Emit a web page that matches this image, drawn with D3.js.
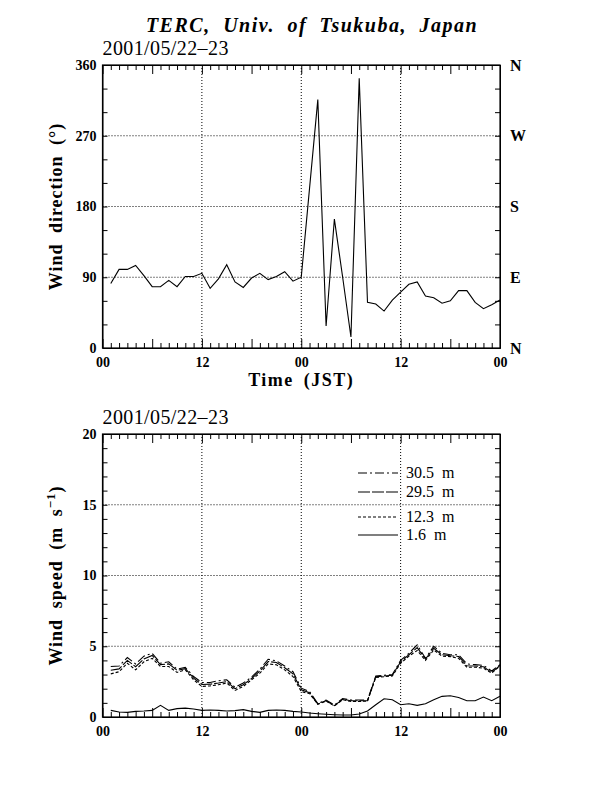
<!DOCTYPE html>
<html>
<head>
<meta charset="utf-8">
<script src="https://cdn.jsdelivr.net/npm/d3@7"></script>
<style>
  body { margin: 0; background: #fff; }
  svg { display: block; }
  text { font-family: "Liberation Serif", "Times New Roman", serif; fill: #000; }
  .tick text { font-weight: bold; font-size: 14px; }
</style>
</head>
<body>
<svg id="chart" width="616" height="792"></svg>
<script>
// ######## data: hourly values, hour 1..48 (JST, 2001/05/22 01:00 .. 05/24 00:00)
var hours = d3.range(1, 49);

// wind direction (deg)
var windDir = [82, 100, 100, 105, 92, 78, 78, 86, 78, 91, 91, 95,
               76, 88, 106, 84, 77, 89, 95, 87, 91, 97, 85, 90,
               203, 316, 28, 164, 90, 14, 343, 58, 56, 47, 61, 71,
               81, 84, 66, 64, 57, 60, 73, 73, 58, 50, 55, 61];

// wind speed (m/s) per height
var ws305 = [3.57, 3.6, 4.2, 3.75, 4.3, 4.5, 3.8, 3.9, 3.38, 3.5, 2.86, 2.44,
             2.44, 2.56, 2.63, 2.1, 2.4, 2.82, 3.38, 4.08, 3.97, 3.6, 3.2, 2.04,
             1.8, 0.95, 1.2, 0.85, 1.3, 1.2, 1.2, 1.2, 2.9, 2.95, 3.0, 4.0,
             4.5, 5.1, 4.15, 5.0, 4.5, 4.4, 4.4, 3.75, 3.7, 3.65, 3.25, 3.7];
var ws295 = [3.3, 3.4, 4.0, 3.55, 4.1, 4.35, 3.7, 3.75, 3.3, 3.42, 2.75, 2.3,
             2.32, 2.4, 2.5, 2.0, 2.28, 2.72, 3.25, 3.92, 3.85, 3.48, 3.05, 1.92,
             1.72, 0.92, 1.15, 0.8, 1.25, 1.15, 1.15, 1.15, 2.85, 2.9, 2.95, 3.9,
             4.4, 4.9, 4.1, 4.85, 4.4, 4.33, 4.28, 3.62, 3.6, 3.55, 3.15, 3.65];
var ws123 = [3.05, 3.2, 3.8, 3.33, 3.9, 4.15, 3.57, 3.57, 3.15, 3.33, 2.63, 2.16,
             2.2, 2.28, 2.4, 1.88, 2.16, 2.63, 3.1, 3.75, 3.69, 3.33, 2.86, 1.8,
             1.65, 0.9, 1.12, 0.78, 1.22, 1.1, 1.1, 1.12, 2.8, 2.85, 2.9, 3.8,
             4.3, 4.7, 4.0, 4.74, 4.3, 4.27, 4.15, 3.52, 3.52, 3.45, 3.1, 3.6];
var ws16  = [0.47, 0.35, 0.33, 0.4, 0.42, 0.47, 0.82, 0.47, 0.59, 0.63, 0.56, 0.47,
             0.49, 0.47, 0.42, 0.45, 0.52, 0.4, 0.33, 0.47, 0.49, 0.47, 0.4, 0.35,
             0.28, 0.23, 0.19, 0.16, 0.14, 0.14, 0.21, 0.42, 0.87, 1.29, 1.22, 0.87,
             0.94, 0.82, 0.94, 1.22, 1.46, 1.5, 1.38, 1.15, 1.15, 1.41, 1.15, 1.46];

var speedSeries = [
  { label: "30.5  m", values: ws305, dash: "9,3,2,3" },
  { label: "29.5  m", values: ws295, dash: "12,2" },
  { label: "12.3  m", values: ws123, dash: "3,2" },
  { label: "1.6  m",  values: ws16,  dash: null }
];

var timeTicks = [0, 12, 24, 36, 48];
var dirTicks = [0, 90, 180, 270, 360];
var compass = ["N", "E", "S", "W", "N"];
var speedTicks = [0, 5, 10, 15, 20];

var title = "TERC, Univ. of Tsukuba, Japan";
var dateLabel = "2001/05/22\u201323";

// ######## layout
var svg = d3.select("#chart");
var left = 102.5, right = 500;

var x = d3.scaleLinear().domain([0, 48]).range([left, right]);
var yDir = d3.scaleLinear().domain([0, 360]).range([348, 65]);
var ySpd = d3.scaleLinear().domain([0, 20]).range([717, 434]);

svg.append("text")
  .attr("x", 312).attr("y", 32)
  .attr("text-anchor", "middle")
  .style("font-size", "20px").style("font-weight", "bold").style("font-style", "italic")
  .style("letter-spacing", "1.5px").style("word-spacing", "6px")
  .text(title);

function timeLabel(h) { return d3.format("02")(h % 24); }

// draw one panel: frame, grid, ticks, labels
function drawPanel(y, yTicks, yMinorStep, opts) {
  var g = svg.append("g");
  var y0 = y.range()[0], y1 = y.range()[1];

  // dotted grid
  g.selectAll(".vgrid").data(timeTicks.slice(1, -1)).join("line")
    .attr("x1", d => x(d)).attr("x2", d => x(d))
    .attr("y1", y0).attr("y2", y1)
    .attr("stroke", "#000").attr("stroke-width", 1).attr("stroke-dasharray", "1,2");
  g.selectAll(".hgrid").data(yTicks.slice(1, -1)).join("line")
    .attr("x1", left).attr("x2", right)
    .attr("y1", d => y(d)).attr("y2", d => y(d))
    .attr("stroke", "#000").attr("stroke-width", 1).attr("stroke-dasharray", "1,2");

  // inward ticks, hourly minor and 6-hourly major
  var hourAll = d3.range(0, 49);
  var minorH = hourAll.filter(h => h % 6 !== 0);
  var majorH = hourAll.filter(h => h % 6 === 0);
  g.append("g").attr("transform", "translate(0," + y0 + ")")
    .call(d3.axisTop(x).tickValues(minorH).tickSize(5).tickSizeOuter(0).tickFormat(""));
  g.append("g").attr("transform", "translate(0," + y0 + ")")
    .call(d3.axisTop(x).tickValues(majorH).tickSize(9).tickSizeOuter(0).tickFormat(""));
  g.append("g").attr("transform", "translate(0," + y1 + ")")
    .call(d3.axisBottom(x).tickValues(minorH).tickSize(5).tickSizeOuter(0).tickFormat(""));
  g.append("g").attr("transform", "translate(0," + y1 + ")")
    .call(d3.axisBottom(x).tickValues(majorH).tickSize(9).tickSizeOuter(0).tickFormat(""));

  var yMinor = d3.range(y.domain()[0], y.domain()[1] + 1e-9, yMinorStep);
  g.append("g").attr("transform", "translate(" + left + ",0)")
    .call(d3.axisRight(y).tickValues(yMinor).tickSize(5).tickSizeOuter(0).tickFormat(""));
  g.append("g").attr("transform", "translate(" + right + ",0)")
    .call(d3.axisLeft(y).tickValues(yMinor).tickSize(5).tickSizeOuter(0).tickFormat(""));

  // labels
  var xl = g.append("g").attr("transform", "translate(0," + y0 + ")")
    .call(d3.axisBottom(x).tickValues(timeTicks).tickSize(0).tickPadding(9).tickFormat(timeLabel));
  xl.select(".domain").remove();
  var yl = g.append("g").attr("transform", "translate(" + left + ",0)")
    .call(d3.axisLeft(y).tickValues(yTicks).tickSize(0).tickPadding(6));
  yl.select(".domain").remove();
  if (opts.rightLabels) {
    var yr = g.append("g").attr("transform", "translate(" + right + ",0)")
      .call(d3.axisRight(y).tickValues(yTicks).tickSize(0).tickPadding(10)
        .tickFormat((d, i) => opts.rightLabels[i]));
    yr.select(".domain").remove();
    yr.selectAll("text").style("font-size", "16px");
  }
  g.selectAll(".domain").attr("stroke", "#000");

  // frame
  g.append("rect")
    .attr("x", left).attr("y", y1)
    .attr("width", right - left).attr("height", y0 - y1)
    .attr("fill", "none").attr("stroke", "#000").attr("stroke-width", 1.2);

  // date
  svg.append("text")
    .attr("x", left).attr("y", y1 - 10)
    .style("font-size", "20px").style("letter-spacing", "0.4px")
    .text(dateLabel);

  return g;
}

// ######## top panel: wind direction
var dirPanel = drawPanel(yDir, dirTicks, 30, { rightLabels: compass });

dirPanel.append("path")
  .datum(hours.map((h, i) => [h, windDir[i]]))
  .attr("fill", "none").attr("stroke", "#000").attr("stroke-width", 1.1)
  .attr("d", d3.line().x(d => x(d[0])).y(d => yDir(d[1])));

svg.append("text")
  .attr("transform", "translate(62," + ((65 + 348) / 2) + ") rotate(-90)")
  .attr("text-anchor", "middle")
  .style("font-size", "18px").style("font-weight", "bold")
  .style("letter-spacing", "1px").style("word-spacing", "5px")
  .text("Wind direction (\u00B0)");

svg.append("text")
  .attr("x", (left + right) / 2).attr("y", 386)
  .attr("text-anchor", "middle")
  .style("font-size", "18px").style("font-weight", "bold")
  .style("letter-spacing", "1.5px").style("word-spacing", "4px")
  .text("Time (JST)");

// ######## bottom panel: wind speed
var spdPanel = drawPanel(ySpd, speedTicks, 1, {});

var spdLine = d3.line().x(d => x(d[0])).y(d => ySpd(d[1]));
spdPanel.selectAll(".spd").data(speedSeries).join("path")
  .attr("fill", "none").attr("stroke", "#000").attr("stroke-width", 1.1)
  .attr("stroke-dasharray", d => d.dash)
  .attr("d", d => spdLine(hours.map((h, i) => [h, d.values[i]])));

var ylab = svg.append("text")
  .attr("transform", "translate(62," + ((434 + 717) / 2) + ") rotate(-90)")
  .attr("text-anchor", "middle")
  .style("font-size", "18px").style("font-weight", "bold")
  .style("letter-spacing", "1px").style("word-spacing", "5px");
ylab.append("tspan").text("Wind speed (m s");
ylab.append("tspan").attr("dy", -7).style("font-size", "13px").text("\u22121");
ylab.append("tspan").attr("dy", 7).text(")");

// legend
var legendRows = [473, 492, 517, 535];
var legend = spdPanel.selectAll(".leg").data(speedSeries).join("g")
  .attr("transform", (d, i) => "translate(0," + legendRows[i] + ")");
legend.append("line")
  .attr("x1", 358).attr("x2", 398)
  .attr("stroke", "#000").attr("stroke-width", 1.1)
  .attr("stroke-dasharray", d => d.dash);
legend.append("text")
  .attr("x", 406).attr("y", 5)
  .style("font-size", "16px")
  .style("white-space", "pre")
  .text(d => d.label);
</script>
</body>
</html>
